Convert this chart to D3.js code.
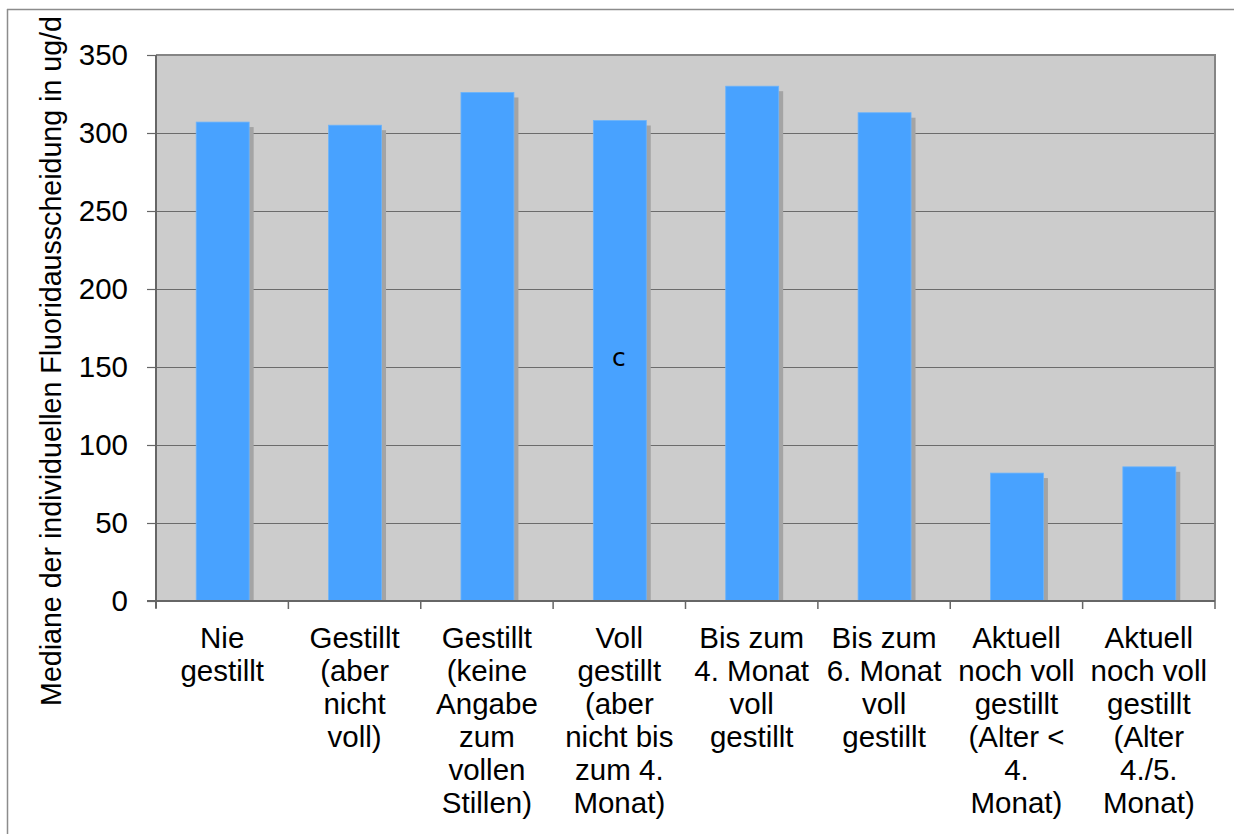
<!DOCTYPE html>
<html>
<head>
<meta charset="utf-8">
<script src="https://cdn.jsdelivr.net/npm/d3@7"></script>
<style>
  html, body { margin: 0; padding: 0; background: #ffffff; }
  svg { display: block; }
  text { font-family: "Liberation Sans", Arial, sans-serif; fill: #000; }
</style>
</head>
<body>
<svg id="chart" width="1234" height="834"></svg>
<script>
// ---- data ----
const categories = [
  ["Nie", "gestillt"],
  ["Gestillt", "(aber", "nicht", "voll)"],
  ["Gestillt", "(keine", "Angabe", "zum", "vollen", "Stillen)"],
  ["Voll", "gestillt", "(aber", "nicht bis", "zum 4.", "Monat)"],
  ["Bis zum", "4. Monat", "voll", "gestillt"],
  ["Bis zum", "6. Monat", "voll", "gestillt"],
  ["Aktuell", "noch voll", "gestillt", "(Alter <", "4.", "Monat)"],
  ["Aktuell", "noch voll", "gestillt", "(Alter", "4./5.", "Monat)"]
];
const values = [307, 305, 326, 308, 330, 313, 82, 86];
const yTicks = [0, 50, 100, 150, 200, 250, 300, 350];
const yTitle = "Mediane der individuellen Fluoridausscheidung in ug/d";
const annotations = [{ index: 3, value: 156, text: "c" }];

// ---- layout ----
const svg = d3.select("#chart");
const plot = { left: 156, right: 1215, top: 55, bottom: 601 };

const x = d3.scaleBand()
  .domain(d3.range(categories.length))
  .range([plot.left, plot.right])
  .padding(0);
const y = d3.scaleLinear().domain([0, 350]).range([plot.bottom, plot.top]);

// outer frame
svg.append("line").attr("x1", 7).attr("x2", 1234).attr("y1", 9.5).attr("y2", 9.5)
  .attr("stroke", "#8c8c8c").attr("stroke-width", 1.5);
svg.append("line").attr("x1", 7.5).attr("x2", 7.5).attr("y1", 9).attr("y2", 834)
  .attr("stroke", "#8c8c8c").attr("stroke-width", 1.5);

// plot background
svg.append("rect")
  .attr("x", plot.left).attr("y", plot.top)
  .attr("width", plot.right - plot.left).attr("height", plot.bottom - plot.top)
  .attr("fill", "#cccccc");

// gridlines
svg.append("g").selectAll("line")
  .data(yTicks.filter(d => d > 0 && d < 350))
  .join("line")
  .attr("x1", plot.left).attr("x2", plot.right)
  .attr("y1", d => Math.round(y(d)) + 0.5).attr("y2", d => Math.round(y(d)) + 0.5)
  .attr("stroke", "#6b6b6b").attr("stroke-width", 1);

// plot border (top & right)
svg.append("path")
  .attr("d", `M${plot.left},${plot.top} H${plot.right} V${plot.bottom}`)
  .attr("fill", "none").attr("stroke", "#858585").attr("stroke-width", 2);

const barW = x.bandwidth() * 0.4;
const shadow = 5;

// bar shadows
svg.append("g").selectAll("rect")
  .data(values)
  .join("rect")
  .attr("x", (d, i) => x(i) + (x.bandwidth() - barW) / 2 + shadow)
  .attr("y", d => y(d) + shadow)
  .attr("width", barW)
  .attr("height", d => plot.bottom - y(d) - shadow)
  .attr("fill", "#a4a4a4");

// bars
svg.append("g").selectAll("rect")
  .data(values)
  .join("rect")
  .attr("x", (d, i) => x(i) + (x.bandwidth() - barW) / 2 + 0.5)
  .attr("y", d => y(d))
  .attr("width", barW)
  .attr("height", d => plot.bottom - y(d))
  .attr("fill", "#48a2ff")
  .attr("stroke", "#6cb3fb").attr("stroke-width", 0.8);

// y axis
const yAxis = d3.axisLeft(y).tickValues(yTicks).tickSize(9).tickPadding(19).tickFormat(d3.format("d"));
const gy = svg.append("g").attr("transform", `translate(${plot.left},0)`).call(yAxis);
gy.select(".domain").attr("stroke", "#666").attr("stroke-width", 2)
  .attr("d", `M0,${plot.top}V${plot.bottom + 7}`);
gy.selectAll(".tick line").attr("stroke", "#666").attr("stroke-width", 1.2);
gy.selectAll(".tick text")
  .style("font-family", '"Liberation Sans", Arial, sans-serif')
  .style("font-size", "29.5px").attr("fill", "#000");

// x axis baseline and ticks
svg.append("line")
  .attr("x1", plot.left - 9).attr("x2", plot.right)
  .attr("y1", plot.bottom).attr("y2", plot.bottom)
  .attr("stroke", "#666").attr("stroke-width", 2);
const boundaries = d3.range(categories.length + 1).map(i => i < categories.length ? x(i) : x(i - 1) + x.bandwidth());
svg.append("g").selectAll("line")
  .data(boundaries)
  .join("line")
  .attr("x1", d => d).attr("x2", d => d)
  .attr("y1", plot.bottom).attr("y2", plot.bottom + 8)
  .attr("stroke", "#666").attr("stroke-width", 1.5);

// x labels
const lab = svg.append("g").selectAll("text")
  .data(categories)
  .join("text")
  .attr("text-anchor", "middle")
  .attr("font-size", "29.5px")
  .attr("x", (d, i) => x(i) + x.bandwidth() / 2)
  .attr("y", 648);
lab.selectAll("tspan")
  .data((d, i) => d.map(t => ({ t, i })))
  .join("tspan")
  .attr("x", d => x(d.i) + x.bandwidth() / 2)
  .attr("dy", (d, j) => j === 0 ? 0 : 33)
  .text(d => d.t);

// y title
svg.append("text")
  .attr("transform", `translate(61,361) rotate(-90)`)
  .attr("text-anchor", "middle")
  .attr("font-size", "28.6px")
  .text(yTitle);

// annotation
svg.append("g").selectAll("text")
  .data(annotations)
  .join("text")
  .attr("x", d => x(d.index) + x.bandwidth() / 2 - 0.5)
  .attr("y", d => y(d.value) + 8)
  .attr("text-anchor", "middle")
  .style("font-family", '"DejaVu Sans", sans-serif')
  .attr("font-size", "25px")
  .text(d => d.text);
</script>
</body>
</html>
